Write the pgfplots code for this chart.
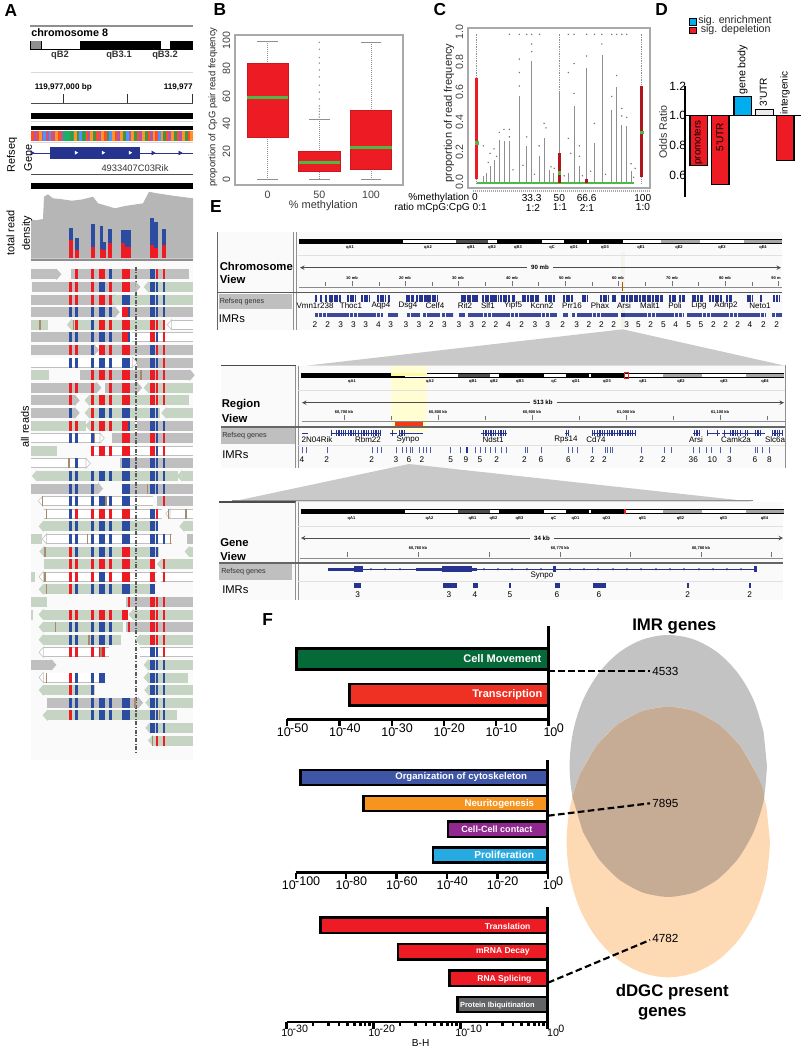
\documentclass[border=0pt]{standalone}
\usepackage{fontspec}
\setmainfont{Liberation Sans}
\usepackage{pgfplots}
\pgfplotsset{compat=1.18}
\usepgfplotslibrary{statistics}

\definecolor{rd}{HTML}{ED1C24}
\definecolor{bl}{HTML}{2C4CA2}
\definecolor{nb}{HTML}{26348F}
\definecolor{rg}{HTML}{BFBFBF}
\definecolor{rv}{HTML}{C6D4C4}
\definecolor{br}{HTML}{A8896C}
\definecolor{fr}{HTML}{A9A9A9}
\definecolor{gm}{HTML}{4DB848}
\definecolor{gl}{HTML}{8F8F8F}
\definecolor{vgray}{HTML}{C4C3C3}
\definecolor{vorange}{HTML}{FDD9B4}
\definecolor{vboth}{HTML}{C6AB95}
\definecolor{skyb}{HTML}{00AEEF}

\newcommand\fz[1]{\fontsize{#1}{#1}\selectfont}
\newcommand\tp[1]{10\kern-.5pt\raisebox{.33em}{-#1}}

\pgfdeclareplotmark{rt}{\pgfpathrectangle{\pgfpoint{-\pgfplotmarksize}{-3.75pt}}{\pgfpoint{2\pgfplotmarksize}{7.5pt}}\pgfusepathqfill}
\pgfdeclareplotmark{tipR}{\pgfpathmoveto{\pgfpoint{0pt}{3.75pt}}\pgfpathlineto{\pgfpoint{3.25pt}{0pt}}\pgfpathlineto{\pgfpoint{0pt}{-3.75pt}}\pgfpathclose\pgfusepathqfillstroke}
\pgfdeclareplotmark{tipL}{\pgfpathmoveto{\pgfpoint{0pt}{3.75pt}}\pgfpathlineto{\pgfpoint{-3.25pt}{0pt}}\pgfpathlineto{\pgfpoint{0pt}{-3.75pt}}\pgfpathclose\pgfusepathqfillstroke}

\pgfplotsset{
  table/row sep=\\,
  hb/.style={quiver={u=\thisrow{u},v=0}},
  vb/.style={quiver={u=0,v=\thisrow{v}}},
  canvas/.style={at={(0pt,0pt)},anchor=south west,scale only axis,width=606pt,height=787.5pt,
    xmin=0,xmax=808,ymin=0,ymax=1050,y dir=reverse,hide axis,clip=false},
  box/.code n args={4}{% left right top bottom, in pixels of the reference
    \pgfmathsetlengthmacro\bl{#1*0.75pt}\pgfmathsetlengthmacro\bb{(1050-#4)*0.75pt}%
    \pgfmathsetlengthmacro\bw{(#2-#1)*0.75pt}\pgfmathsetlengthmacro\bh{(#4-#3)*0.75pt}%
    \pgfplotsset{scale only axis,anchor=south west,at={(\bl,\bb)},width=\bw,height=\bh}},
  fbar/.style={xbar,bar shift=0pt,log origin=0,axis y line*=right,axis x line*=bottom,
    ytick=\empty,axis line style={line width=2.2pt},tick style={black,line width=1.8pt},
    major tick length=5pt,minor tick length=3pt,tick align=outside,clip=false,ymin=0,xmax=1,
    xticklabel style={font=\fz{9.4},yshift=5.5pt,xshift=4pt},xminorticks=false},
}

% horizontal / vertical segments: colour, width, rows
\newcommand\HB[3]{\addplot[hb,color=#1,line width=#2] table{x y u\\#3};}
\newcommand\VB[3]{\addplot[vb,color=#1,line width=#2] table{x y v\\#3};}
\newcommand\POLY[2]{\addplot[draw=none,fill=#1] coordinates{#2}--cycle;}
\newcommand\LN[3]{\addplot[color=#1,line width=#2] coordinates{#3};}
% text rows: font, y, rows of x t
\newcommand\TXT[3]{\addplot[draw=none,nodes near coords,point meta=explicit symbolic,
  every node near coord/.append style={anchor=center,inner sep=0pt,font=#1}]
  table[x=x,y expr=#2,meta=t]{x t\\#3};}
% a column of marks in the reads panel: x, half width, red rows, blue rows
\newcommand\COL[4]{%
  \addplot[only marks,mark=rt,mark size=#2,color=rd] table[x expr=#1,y index=0,header=false]{#3};
  \addplot[only marks,mark=rt,mark size=#2,color=bl] table[x expr=#1,y index=0,header=false]{#4};}
\newcommand\STRIP[2]{\addplot[quiver={u=2.8,v=0},color=#1,line width=7.5pt] table[x index=0,y expr=135.5,header=false]{#2};}
% ideogram: y centre, x offset
\newcommand\IDEO[2]{%
  \addplot[hb,color=black,line width=3.4pt] table[x expr=\thisrow{x}+#2,y expr=#1]{x u\\299 483\\};
  \addplot[hb,color=white,line width=2.1pt] table[x expr=\thisrow{x}+#2,y expr=#1]{x u\\403 53\\488 9\\542 22\\587 2\\623 38\\700 44\\};
  \addplot[hb,color=black!70,line width=2.1pt] table[x expr=\thisrow{x}+#2,y expr=#1]{x u\\456 32\\};
  \addplot[hb,color=black!35,line width=2.1pt] table[x expr=\thisrow{x}+#2,y expr=#1]{x u\\661 39\\744 38\\};
  \addplot[draw=none,nodes near coords,point meta=explicit symbolic,
    every node near coord/.append style={anchor=center,inner sep=0pt,font=\fz{3}\bfseries}]
    table[x expr=\thisrow{x}+#2,y expr=#1+6.5,meta=t]{x t\\350 qA1\\428 qA2\\471 qB1\\492 qB2\\518 qB3\\552 qC\\574 qD1\\605 qD3\\641 qE1\\679 qE2\\722 qE3\\763 qE4\\};}

\begin{document}
\begin{tikzpicture}
\path[use as bounding box] (0pt,0pt) rectangle (606pt,787.5pt);

%% background canvas: panels A and E, Venn
\begin{axis}[canvas]
% panel A tracks
\POLY{black!2}{(31,260)(193,260)(193,760)(31,760)}
\LN{gl}{.8pt}{(30,26)(193,26)}
\HB{black}{7pt}{30 45.3 163\\}
\HB{gl}{6pt}{30.5 45.3 10.5\\}
\HB{white}{6pt}{41.5 45.3 38.5\\161 45.3 9\\}
\LN{black!15}{.6pt}{(31,72)(193,72)}
\LN{black!70}{.6pt}{(31,103.3)(193,103.3)}
\VB{black!80}{.7pt}{63.3 103.3 -9\\127.3 103.3 -9\\192 103.3 -9\\}
\HB{black}{4.5pt}{31 115.5 162\\}
\LN{black!15}{.6pt}{(31,121)(193,121)}
\HB{black}{3pt}{31 128.3 162\\}
\HB{teal!70!green!90}{7.5pt}{31 135.5 162\\}
\STRIP{red!65!orange!85}{31\\36.4\\44.5\\50\\58\\85.6\\96\\104\\115\\125\\136\\147\\155\\166\\177\\187\\}
\STRIP{orange!85}{39\\55\\74\\90\\101\\112\\120\\131\\142\\152\\160\\171\\182\\190\\}
\STRIP{green!45!black!75}{70\\77\\82\\93\\107\\123\\134\\145\\163\\174\\185\\}
\STRIP{violet!65}{33.7\\41.5\\47\\52.5\\60.5\\87.5\\98.5\\117\\128\\139\\150\\168\\179\\}
\STRIP{blue!60!cyan!70}{42.8\\48.5\\79\\109\\126\\158\\}
\LN{black!15}{.6pt}{(31,142.5)(193,142.5)}
\LN{nb}{.6pt}{(31,153)(193,153)}
\HB{nb}{9pt}{50 152.7 90\\}
\addplot[only marks,mark=triangle*,mark size=1.6pt,color=nb,mark options={rotate=-90}] coordinates{(32,153)(153,153)(180,153)};
\addplot[only marks,mark=triangle*,mark size=1.2pt,color=white,mark options={rotate=-90}] coordinates{(76,152.7)(103,152.7)(130,152.7)};
\LN{black!70}{.7pt}{(31,174)(193,174)}
\HB{black}{4.5pt}{31 186 162\\}
\POLY{gl!65}{(31,258.5)(31,219.3)(36,220.3)(43,219)(44,196.7)(48,194.3)(53,198.3)(60,199)(72,200.7)(82,199.5)(93,196.7)(98,203.3)(115,208.3)(125,206)(143,203.3)(149,191.7)(157,193.3)(175,196)(193,198.3)(193,258.5)}
\VB{bl}{2.8pt}{70.7 258.3 -30.6\\76.7 258.3 -20.6\\93.3 258.3 -34.3\\101.5 258.3 -32.3\\104.2 258.3 -16.6\\110.2 258.3 -29.3\\123.3 258.3 -28.3\\126.5 258.3 -28.3\\129.5 258.3 -28.3\\152 258.3 -40\\156 258.3 -36.6\\164.3 258.3 -29.3\\}
\VB{rd}{2.8pt}{70.7 258.3 -18.3\\76.7 258.3 -8.3\\93.3 258.3 -11.6\\101.5 258.3 -9\\104.2 258.3 -8.3\\110.2 258.3 -15.6\\123.3 258.3 -15.6\\126.5 258.3 -11\\129.5 258.3 -11\\152 258.3 -13\\156 258.3 -10\\164.3 258.3 -13.3\\}
\LN{gl}{1pt}{(31,260)(193,260)}

% panel E backgrounds and funnels
\POLY{black!2}{(217,232)(782,232)(782,330)(217,330)}
\POLY{black!2}{(221,366)(785,366)(785,468)(221,468)}
\POLY{black!2}{(219,502)(783,502)(783,600)(219,600)}
\POLY{rg!85}{(622.7,329.3)(785,365.7)(306,365.7)}
\POLY{rg!85}{(409,464)(753,501.7)(231.7,501.7)}
\LN{gl}{1.2pt}{(231.7,500.6)(753,500.6)}
\POLY{yellow!40!black!8}{(620.7,252)(625,252)(625,328)(620.7,328)}
\POLY{yellow!18}{(390.7,366)(426.7,366)(426.7,431.7)(390.7,431.7)}

% chromosome view
\LN{black!60}{.6pt}{(217,232)(217,330)}
\LN{gl}{.6pt}{(293,232)(293,330)}
\LN{gl}{.6pt}{(296,232)(296,330)}
\IDEO{241.3}{0}
\LN{black!12}{.6pt}{(298,255)(782,255)}
\addplot[black!70,line width=.5pt,stealth-] coordinates{(300,267.7)(527,267.7)};
\addplot[black!70,line width=.5pt,-stealth] coordinates{(553,267.7)(781,267.7)};
\VB{black!55}{.5pt}{325 286 -4\\352 286 -5\\379 286 -4\\405 286 -5\\432 286 -4\\458 286 -5\\485 286 -4\\512 286 -5\\538 286 -4\\565 286 -5\\592 286 -4\\618 286 -5\\645 286 -4\\672 286 -5\\698 286 -4\\725 286 -5\\752 286 -4\\778 286 -5\\}
\LN{black!45}{.7pt}{(299,287)(782,287)}
\LN{black!65}{1.1pt}{(218,292.3)(782,292.3)}
\POLY{rg}{(219,294)(292,294)(292,309)(219,309)}
\addplot[hb,color=nb,line width=5pt,dash pattern=on 1.6pt off .35pt] table{x y u\\315 298.5 2\\320 298.5 2\\325 298.5 2\\328.5 298.5 12.5\\347 298.5 9\\361 298.5 8\\377 298.5 8\\388 298.5 2.5\\405.5 298.5 8\\416 298.5 22\\460.5 298.5 3\\464 298.5 14\\482 298.5 17\\500 298.5 10\\511.7 298.5 3.3\\521.7 298.5 17.6\\545 298.5 10\\563 298.5 9.7\\581.7 298.5 5.6\\600 298.5 8.3\\611.7 298.5 5\\620.7 298.5 42.6\\669 298.5 7\\679 298.5 6\\691.7 298.5 11.6\\709.3 298.5 12.4\\726 298.5 5.7\\746.7 298.5 5.6\\760 298.5 2.3\\773.3 298.5 5.7\\};
\addplot[hb,color=nb!90,line width=3.4pt,dash pattern=on 2.6pt off .3pt] table{x y u\\315 315 68\\388.3 315 10\\406.7 315 13.3\\422.7 315 17.3\\441.7 315 11.6\\459.3 315 5.7\\468.3 315 88.4\\563.3 315 5\\571.7 315 3\\577.3 315 41\\620.7 315 62.6\\687.3 315 79\\771.7 315 10\\};
\POLY{yellow!40!black!10}{(620.7,310)(625,310)(625,328)(620.7,328)}
\HB{nb}{3.4pt}{620.7 315 4.3\\}
\LN{orange!70!black}{.6pt}{(622.7,282)(622.7,291)}

% region view
\LN{black!70}{.8pt}{(221,365.5)(296,365.5)}
\LN{gl}{.7pt}{(785,365)(785,468)}
\LN{gl}{.6pt}{(295,366)(295,468)}
\LN{gl}{.6pt}{(298,366)(298,468)}
\IDEO{375.5}{2}
\POLY{yellow!35}{(390.7,372.5)(426.7,372.5)(426.7,376)(390.7,376)}
\addplot[draw=rd,line width=.7pt] coordinates{(624.7,372.8)(628,372.8)(628,378.5)(624.7,378.5)}--cycle;
\LN{black!12}{.6pt}{(298,390)(785,390)}
\addplot[black!70,line width=.5pt,stealth-] coordinates{(302,402.7)(530,402.7)};
\addplot[black!70,line width=.5pt,-stealth] coordinates{(557,402.7)(784,402.7)};
\VB{black!55}{.5pt}{344 420 -5\\391 420 -4\\438 420 -5\\485 420 -4\\532 420 -5\\579 420 -4\\626 420 -5\\673 420 -4\\720 420 -5\\767 420 -4\\}
\LN{black!45}{.6pt}{(302,421)(785,421)}
\HB{rd!70!orange}{3.4pt}{395 424 28.3\\}
\LN{black!60}{1.4pt}{(221,427)(785,427)}
\POLY{rg}{(221,428)(295,428)(295,444)(221,444)}
\LN{black!12}{.6pt}{(298,445)(785,445)}
\HB{nb}{.5pt}{302 433 6\\330.7 433 49.3\\390 433 6.7\\400 433 23.3\\480.7 433 26\\500 433 6.7\\565 433 3.3\\591.7 433 43.3\\693.3 433 5.7\\706.7 433 13.3\\721.7 433 43.3\\771.7 433 11.7\\}
\addplot[hb,color=nb,line width=4.5pt,dash pattern=on .9pt off .9pt] table{x y u\\331 433 2\\336 433 5\\343 433 3\\348 433 11\\361 433 11\\373 433 6\\380 433 2\\392 433 2\\399 433 3\\402 433 3\\483 433 5\\488 433 8\\498 433 5\\505 433 2\\566 433 3\\592 433 3\\597 433 18\\617 433 6\\625 433 8\\635 433 2\\694 433 5\\707 433 2\\717 433 2\\724 433 2\\730 433 12\\745 433 3\\755 433 7\\772 433 11\\};
\VB{nb!80}{.5pt}{302.3 453 -6\\306.7 453 -6\\327.3 453 -6\\372.3 453 -6\\377.3 453 -6\\381.7 453 -6\\396 453 -6\\402.7 453 -6\\406.7 453 -6\\410 453 -6\\412.3 453 -6\\419.3 453 -6\\423.3 453 -6\\426.7 453 -6\\430 453 -6\\450.7 453 -6\\460 453 -6\\466 453 -6\\475.7 453 -6\\480 453 -6\\485 453 -6\\490 453 -6\\495.7 453 -6\\501.7 453 -6\\506 453 -6\\525 453 -6\\527.7 453 -6\\541.7 453 -6\\568.3 453 -6\\572.7 453 -6\\577.7 453 -6\\592.7 453 -6\\605 453 -6\\607.3 453 -6\\610 453 -6\\612.7 453 -6\\641.7 453 -6\\664 453 -6\\671 453 -6\\693.3 453 -6\\699 453 -6\\706 453 -6\\711.7 453 -6\\720.7 453 -6\\730 453 -6\\755 453 -6\\757.7 453 -6\\762.3 453 -6\\769.3 453 -6\\}
\HB{nb}{4.4pt}{465.6 450 2.2\\}

% gene view
\LN{black!70}{.8pt}{(219,502)(296,502)}
\LN{gl}{.6pt}{(295,502)(295,600)}
\LN{gl}{.6pt}{(298,502)(298,600)}
\IDEO{511.7}{1.5}
\HB{rd}{3.4pt}{623.7 511.7 2\\}
\LN{black!12}{.6pt}{(298,526)(783,526)}
\addplot[black!70,line width=.5pt,stealth-] coordinates{(301,538)(530,538)};
\addplot[black!70,line width=.5pt,-stealth] coordinates{(554,538)(783,538)};
\VB{black!55}{.5pt}{347.7 557 -5\\418.3 557 -5\\489 557 -5\\560 557 -5\\630 557 -5\\701 557 -5\\771.7 557 -5\\}
\LN{black!45}{.6pt}{(300,558)(783,558)}
\LN{black!60}{1.4pt}{(219,563)(783,563)}
\POLY{rg}{(219,564)(292,564)(292,580)(219,580)}
\LN{black!12}{.6pt}{(298,581)(783,581)}
\LN{nb}{.5pt}{(328,569.3)(755.7,569.3)}
\HB{nb}{2.6pt}{328.3 569.3 25.7\\415.7 569.3 26.6\\471.7 569.3 5\\}
\HB{nb}{4.6pt}{354 569.3 9.3\\442.3 569.3 29.4\\553.3 569.3 2.7\\754.3 569.3 2.4\\}
\addplot[only marks,mark=*,mark size=.55pt,color=nb] coordinates{(371,569.3)(385,569.3)(400,569.3)(484,569.3)(498,569.3)(512,569.3)(527,569.3)(541,569.3)(570,569.3)(584,569.3)(598,569.3)(613,569.3)(627,569.3)(641,569.3)(656,569.3)(670,569.3)(684,569.3)(699,569.3)(713,569.3)(727,569.3)(741,569.3)};
\HB{nb}{3.8pt}{354 585.7 7.3\\443.3 585.7 13.4\\472.7 585.7 5.6\\509 585.7 2\\555 585.7 5\\592.7 585.7 13.3\\687.3 585.7 1.4\\749.3 585.7 1.4\\}

% Venn
\addplot[fill=vgray,draw=none,smooth,tension=.55] coordinates{(767,766)(763.6,799.9)(753.8,831.5)(738.1,858.6)(717.7,879.4)(693.9,892.5)(668.3,897)(642.7,892.5)(618.9,879.4)(598.5,858.6)(582.8,831.5)(573,799.9)(569.6,766)(573,732.1)(582.8,700.5)(598.5,673.4)(618.9,652.6)(642.7,639.5)(668.3,635)(693.9,639.5)(717.7,652.6)(738.1,673.4)(753.8,700.5)(763.6,732.1)}--cycle;
\addplot[fill=vorange,draw=none,smooth,tension=.55] coordinates{(770,842)(766.5,877)(756.4,909.7)(740.2,937.7)(719.2,959.2)(694.6,972.7)(668.3,977.3)(642,972.7)(617.4,959.2)(596.4,937.7)(580.2,909.7)(570.1,877)(566.6,842)(570.1,807)(580.2,774.3)(596.4,746.3)(617.4,724.8)(642,711.3)(668.3,706.7)(694.6,711.3)(719.2,724.8)(740.2,746.3)(756.4,774.3)(766.5,807)}--cycle;
\addplot[fill=vboth,draw=none,smooth,tension=.4] coordinates{(572.4,797)(580.2,774.3)(596.4,746.3)(617.4,724.8)(642,711.3)(668.3,706.7)(694.6,711.3)(719.2,724.8)(740.2,746.3)(756.4,774.3)(764.2,797)(753.8,831.5)(738.1,858.6)(717.7,879.4)(693.9,892.5)(668.3,897)(642.7,892.5)(618.9,879.4)(598.5,858.6)(582.8,831.5)}--cycle;
\end{axis}

%% panel A reads
\begin{axis}[box={0}{210}{261.7}{753.1},xmin=0,xmax=630,ymin=-1,ymax=38,y dir=reverse,hide axis,clip=false]
\HB{rg}{7.5pt}{93 0 77\\212 0 356\\97 1 313\\93 2 252\\93 3 252\\370 3 208\\93 5 280\\93 6 190\\302 6 276\\412 7 166\\240 8 330\\93 9 197\\315 9 97\\93 10 132\\93 11 132\\412 12 166\\335 13 243\\360 15 218\\93 17 202\\370 17 208\\470 18 108\\560 21 18\\378 26 200\\378 28 200\\93 31 62\\140 34 275\\}
\HB{rv}{7.5pt}{345 2 233\\445 1 133\\93 4 52\\215 4 280\\93 8 54\\445 9 133\\268 10 300\\268 11 212\\498 11 80\\93 12 165\\270 12 135\\93 14 79\\110 16 425\\545 16 33\\130 20 345\\552 20 26\\93 21 34\\132 22 346\\568 22 10\\132 23 333\\485 23 93\\93 24 12\\130 25 328\\93 26 49\\93 27 7\\130 27 255\\400 27 178\\130 28 240\\130 29 232\\420 29 158\\445 31 133\\445 32 120\\130 33 155\\447 33 131\\450 34 128\\142 35 388\\450 36 128\\458 37 120\\}
\HB{rg}{7.5pt}{515 4 63\\395 5 183\\93 7 305\\93 13 207\\272 14 306\\93 15 165\\128 18 332\\132 19 353\\510 19 68\\140 21 375\\130 24 340\\482 24 96\\130 30 198\\420 30 158\\130 32 178\\}
\HB{white}{6.2pt}{515 4 63\\395 5 183\\93 7 305\\93 13 207\\272 14 306\\93 15 165\\128 18 332\\132 19 353\\510 19 68\\140 21 375\\130 24 340\\482 24 96\\130 30 198\\420 30 158\\130 32 178\\}
\addplot[only marks,mark=tipR,mark options={draw=rg,fill=rg}] coordinates{(170,0)(407,1)(345,3)(283,6)(570,8)(290,9)(412,9)(225,10)(225,11)(295,17)(155,31)(415,34)};
\addplot[only marks,mark=tipL,mark options={draw=rv,fill=rv}] coordinates{(445,1)(345,2)(215,4)(445,9)(268,10)(268,11)(498,11)(270,12)(110,16)(545,16)(130,20)(552,20)(132,22)(568,22)(485,23)(130,25)(130,27)(400,27)(130,28)(130,29)(420,29)(445,31)(445,32)(130,33)(447,33)(450,34)(142,35)(450,36)(458,37)};
\addplot[only marks,mark=tipR,mark options={draw=rg,fill=white}] coordinates{(398,7)(300,13)(258,15)};
\addplot[only marks,mark=tipL,mark options={draw=rg,fill=white}] coordinates{(515,4)(128,18)(510,19)(140,21)(130,24)(130,30)(130,32)};
\COL{211}{.9pt}{1\\2\\6\\9\\10\\12\\22\\23\\24\\25\\27\\30\\32\\33\\35\\}{3\\5\\7\\11\\13\\16\\17\\18\\19\\20\\21\\28\\29\\34\\}
\COL{229}{.9pt}{0\\1\\2\\4\\6\\9\\12\\19\\23\\24\\27\\30\\}{3\\5\\7\\13\\15\\16\\17\\18\\20\\21\\22\\25\\28\\29\\32\\33\\34\\35\\}
\COL{278}{.9pt}{0\\1\\2\\8\\9\\10\\11\\12\\14\\19\\23\\24\\27\\30\\}{3\\4\\5\\6\\7\\13\\16\\17\\18\\20\\21\\22\\25\\28\\29\\32\\33\\34\\35\\}
\COL{306}{1.9pt}{0\\2\\4\\6\\8\\10\\12\\14\\19\\23\\27\\30\\}{1\\3\\5\\7\\11\\16\\18\\20\\21\\22\\24\\25\\28\\29\\32\\34\\35\\}
\COL{331}{.9pt}{1\\2\\4\\6\\8\\9\\10\\12\\14\\19\\23\\24\\27\\}{0\\3\\5\\7\\11\\16\\18\\20\\21\\22\\25\\28\\29\\34\\35\\}
\COL{375}{2.5pt}{0\\1\\3\\4\\5\\6\\8\\9\\10\\12\\13\\14\\19\\22\\23\\24\\27\\}{2\\7\\11\\15\\16\\17\\18\\20\\21\\25\\34\\35\\}
\COL{387}{.9pt}{0\\1\\4\\6\\8\\9\\10\\13\\14\\19\\22\\23\\24\\26\\28\\}{2\\3\\5\\7\\11\\12\\15\\16\\17\\18\\20\\21\\25\\34\\35\\}
\COL{458}{1.8pt}{4\\5\\8\\9\\10\\13\\14\\23\\24\\26\\27\\28\\29\\}{0\\1\\2\\3\\6\\7\\11\\12\\15\\16\\17\\19\\20\\21\\22\\25\\30\\31\\32\\33\\34\\35\\36\\}
\COL{471}{.9pt}{0\\4\\6\\8\\9\\10\\19\\26\\27\\28\\29\\37\\}{1\\2\\3\\5\\7\\11\\12\\13\\14\\15\\16\\17\\20\\21\\22\\30\\31\\32\\33\\34\\35\\36\\}
\COL{492}{.9pt}{0\\4\\5\\6\\7\\8\\9\\10\\13\\14\\18\\23\\24\\26\\27\\28\\29\\30\\37\\}{1\\2\\3\\12\\15\\16\\17\\21\\31\\32\\33\\34\\35\\36\\}
\addplot[only marks,mark=rt,mark size=.5pt,color=br] coordinates{(120,4)(220,4)(423,8)(284,13)(207,15)(442,17)(318,18)(127,18)(140,19)(505,19)(558,19)(262,21)(512,21)(135,22)(135,24)(140,25)(167,28)(267,29)(303,30)(140,32)(405,34)(478,35)(458,37)};
\addplot[color=black!65,line width=1pt,dash pattern=on 3pt off 1.2pt on .8pt off 1.2pt] coordinates{(408,-.6)(408,37.9)};
\end{axis}

%% panel B
\begin{axis}[box={235}{403}{35}{185},xmin=-.633,xmax=2.62,ymin=-4.1,ymax=104.3,
  axis line style={fr,line width=.8pt},major tick length=0pt,
  xtick={0,1,2},xticklabels={0,50,100},ytick={0,20,40,60,80,100},
  ticklabel style={font=\fz{8},text=black!75},
  /pgf/number format/assume math mode=true,
  yticklabel style={rotate=90,anchor=south},ytick pos=left,xtick pos=bottom,
  xticklabel style={yshift=-1pt},
  boxplot/draw direction=y,
  boxplot/every box/.style={draw=rd!85!black,fill=rd,line width=.5pt,solid},
  boxplot/every median/.style={gm,line width=2.2pt,solid},
  boxplot/every whisker/.style={gl,line width=.6pt,dash pattern=on .6pt off .9pt},
  boxplot/box extend=.8,boxplot/whisker extend=0]
\addplot[boxplot prepared={draw position=0,lower whisker=0,lower quartile=30.5,median=59,upper quartile=83.5,upper whisker=100}] coordinates{};
\addplot[boxplot prepared={draw position=1,lower whisker=0,lower quartile=5.5,median=12,upper quartile=20,upper whisker=43}] coordinates{};
\addplot[boxplot prepared={draw position=2,lower whisker=0,lower quartile=7.5,median=23,upper quartile=49.5,upper whisker=99}] coordinates{};
\HB{gl}{.6pt}{-.2 0 .4\\-.2 100 .4\\.8 0 .4\\.8 43 .4\\1.8 0 .4\\1.8 99 .4\\}
\addplot[only marks,mark=*,mark size=.3pt,color=gl] coordinates{(1,45)(1,47)(1,49)(1,51)(1,53)(1,58)(1,63)(1,68)(1,74)(1,79)(1,84)(1,88)(1,94)(1,99)};
\end{axis}

%% panel C
\begin{axis}[box={468}{650}{28}{188},xmin=-5.27,xmax=104.97,ymin=-.0314,ymax=1.0374,
  axis line style={fr,line width=1.1pt},major tick length=0pt,
  xtick=\empty,ytick pos=left,
  ytick={0,.2,.4,.6,.8,1},ticklabel style={font=\fz{8},text=black!75},
  /pgf/number format/assume math mode=true,/pgf/number format/fixed,/pgf/number format/fixed zerofill,/pgf/number format/precision=1,
  yticklabel style={rotate=90,anchor=south,xshift=1pt}]
\addplot[ycomb,color=gl,line width=.5pt] coordinates{(4,.047)(6,.069)(8.1,.114)(10.5,.158)(13.7,.292)(16.5,.28)(19.8,.28)(25.8,.58)(30.3,.247)(33.3,.815)(37.8,.18)(40.8,.303)(44,.09)(46.4,.07)(55.5,.07)(59,.514)(62.2,.114)(66.6,.77)(71.3,.27)(75.8,.86)(81.8,.49)(84.8,.64)(87.9,.39)(90.9,.38)(93.5,.08)(50,.6)};
\addplot[ycomb,color=gl,line width=.6pt,dash pattern=on .5pt off .8pt] coordinates{(0,1)(50,1)(100,1)};
\addplot[only marks,mark=*,mark size=.3pt,color=black!55] coordinates{(19.8,.995)(25.8,.995)(30.3,.995)(33.3,.995)(38.1,.995)(55.5,.995)(59,.995)(66.6,.995)(71.3,.995)(75.8,.995)(81.8,.995)(84.8,.995)(87.9,.995)(90.9,.995)(25.8,.83)(25.8,.74)(25.8,.65)(33.3,.88)(33.3,.93)(37.8,.25)(40.8,.4)(42,.37)(45,.11)(55.5,.74)(55.5,.3)(57,.2)(59,.6)(59,.8)(62.2,.25)(62.2,.18)(66.6,.85)(71.3,.4)(75.8,.93)(81.8,.58)(84.8,.72)(87.9,.45)(87.9,.5)(90.9,.44)(93.5,.13)(96,.1)(4,.25)(8.1,.2)(10.5,.23)(13.7,.34)(16.5,.36)(19.8,.36)(19.8,.31)(30.3,.31)(28,.12)(22,.09)(12,.18)(7,.14)(35,.06)(47,.1)(53,.05)(64,.05)(69,.08)(78,.06)(95,.04)};
\addplot[color=gm,line width=1.5pt] coordinates{(0,0)(95,0)};
\addplot[color=rd,line width=2.2pt] coordinates{(0,.03)(0,.7)};
\addplot[color=rd!75!black,line width=2.2pt] coordinates{(50,0)(50,.2)};
\addplot[color=rd!75!black,line width=2.2pt] coordinates{(66.6,0)(66.6,.03)};
\addplot[color=rd!75!black,line width=2.2pt] coordinates{(100,.045)(100,.65)};
\addplot[only marks,mark=square*,mark size=1pt,color=gm] coordinates{(0,.27)(50,.07)(100,.34)};
\end{axis}

%% panel D
\begin{axis}[box={685}{801}{86}{196.7},xmin=685,xmax=801,ymin=.454,ymax=1.2,
  axis y line*=left,axis x line=none,clip=false,axis line style={line width=.9pt},
  ytick={.6,.8,1,1.2},yticklabels={0.6,0.8,1.0,1.2},major tick length=0pt,
  yticklabel style={font=\fz{9},inner sep=0pt,xshift=1pt},
  /pgf/number format/assume math mode=true]
\addplot[draw=black,line width=.8pt,fill=rd] coordinates{(690,1)(707.3,1)(707.3,.665)(690,.665)}--cycle;
\addplot[draw=black,line width=.8pt,fill=rd] coordinates{(711.7,1)(729,1)(729,.538)(711.7,.538)}--cycle;
\addplot[draw=black,line width=.8pt,fill=skyb] coordinates{(734,1)(751.7,1)(751.7,1.13)(734,1.13)}--cycle;
\addplot[draw=black,line width=.8pt,fill=black!8] coordinates{(755.7,1)(773.3,1)(773.3,1.04)(755.7,1.04)}--cycle;
\addplot[draw=black,line width=.8pt,fill=rd] coordinates{(776.7,1)(794,1)(794,.7)(776.7,.7)}--cycle;
\LN{black}{.9pt}{(685,1)(801,1)}
\end{axis}

%% panel F
\begin{semilogxaxis}[box={287.3}{548.3}{625.7}{719.3},fbar,xmin=1e-50,ymax=93.6,
  xtick={1e-50,1e-40,1e-30,1e-20,1e-10,1},xticklabels={\tp{50},\tp{40},\tp{30},\tp{20},\tp{10},10\kern-.5pt\raisebox{.33em}{0}},
  bar width=16pt]
\addplot[draw=black,line width=2.2pt,fill={rgb,255:red,6;green,105;blue,56}] coordinates{(6.3e-49,60.5)};
\addplot[draw=black,line width=2.2pt,fill={rgb,255:red,239;green,49;blue,36}] coordinates{(1e-38,24.6)};
\end{semilogxaxis}
\begin{semilogxaxis}[box={295.7}{547.7}{760}{872.7},fbar,xmin=1e-100,ymax=112.7,
  xtick={1e-100,1e-80,1e-60,1e-40,1e-20,1},xticklabels={\tp{100},\tp{80},\tp{60},\tp{40},\tp{20},10\kern-.5pt\raisebox{.33em}{0}},
  bar width=11.5pt]
\addplot[draw=black,line width=1.9pt,fill={rgb,255:red,63;green,85;blue,165}] coordinates{(1e-98,95.2)};
\addplot[draw=black,line width=1.9pt,fill={rgb,255:red,247;green,148;blue,29}] coordinates{(1e-73,69.2)};
\addplot[draw=black,line width=1.9pt,fill={rgb,255:red,146;green,39;blue,143}] coordinates{(3.2e-40,43.5)};
\addplot[draw=black,line width=1.9pt,fill={rgb,255:red,39;green,170;blue,225}] coordinates{(3.2e-46,17.7)};
\end{semilogxaxis}
\begin{semilogxaxis}[box={286.7}{547.7}{907.3}{1022},fbar,xmin=1e-30,ymax=114.7,
  xtick={1e-30,1e-20,1e-10,1},xticklabels={\tp{30},\tp{20},\tp{10},10\kern-.5pt\raisebox{.33em}{0}},
  xminorticks=true,
  minor xtick={1e-27,6.3e-26,1e-24,1e-23,6.3e-23,3.2e-22,1e-21,3.2e-21,1e-17,6.3e-16,1e-14,1e-13,6.3e-13,3.2e-12,1e-11,3.2e-11,1e-7,6.3e-6,1e-4,1e-3,6.3e-3,3.2e-2,1e-1,3.2e-1},
  bar width=11.5pt,xticklabel style={font=\fz{8},yshift=.5pt,xshift=2pt}]
\addplot[draw=black,line width=1.9pt,fill=rd] coordinates{(7.9e-27,96.8)};
\addplot[draw=black,line width=1.9pt,fill=rd] coordinates{(6.3e-18,70.2)};
\addplot[draw=black,line width=1.9pt,fill=rd] coordinates{(5e-12,43.8)};
\addplot[draw=black,line width=1.9pt,fill={rgb,255:red,99;green,100;blue,102}] coordinates{(4e-11,17.5)};
\end{semilogxaxis}

%% foreground canvas: dashes and text
\begin{axis}[canvas]
\addplot[black,line width=1.6pt,dash pattern=on 5pt off 2.5pt] coordinates{(548,671)(650,671)};
\addplot[black,line width=1.6pt,dash pattern=on 5pt off 2.5pt] coordinates{(548,815.7)(650,803.3)};
\addplot[black,line width=1.6pt,dash pattern=on 5pt off 2.5pt] coordinates{(548,982.7)(650,940)};
\addplot[color=fr,line width=1.6pt,dash pattern=on .6pt off .9pt] coordinates{(473,191)(650,191)};

\node[anchor=center,font=\fz{13}\bfseries] at (11,11) {A};
\node[anchor=center,font=\fz{13}\bfseries] at (220,10) {B};
\node[anchor=center,font=\fz{13}\bfseries] at (440,10) {C};
\node[anchor=center,font=\fz{13}\bfseries] at (661.7,10) {D};
\node[anchor=center,font=\fz{13}\bfseries] at (216,207) {E};
\node[anchor=center,font=\fz{13}\bfseries] at (267.7,620) {F};

% A
\node[anchor=west,inner sep=0pt,font=\fz{8.1}\bfseries] at (31,32.5) {chromosome 8};
\TXT{\fz{7}\bfseries\color{black!80}}{55.7}{60 qB2\\119 qB3.1\\165 qB3.2\\}
\node[anchor=west,inner sep=0pt,font=\fz{6.1}\bfseries] at (34.5,87) {119,977,000 bp};
\node[anchor=east,inner sep=0pt,font=\fz{6.1}\bfseries] at (193,87) {119,977};
\node[anchor=center,inner sep=0pt,font=\fz{7},text=black!80] at (135,168) {4933407C03Rik};
\node[anchor=center,rotate=90,inner sep=0pt,font=\fz{8.2}] at (12,155) {Refseq};
\node[anchor=center,rotate=90,inner sep=0pt,font=\fz{8.2}] at (28,158) {Gene};
\node[anchor=center,rotate=90,inner sep=0pt,font=\fz{8.2}] at (10.5,233) {total read};
\node[anchor=center,rotate=90,inner sep=0pt,font=\fz{8.2}] at (27,233) {density};
\node[anchor=center,rotate=90,inner sep=0pt,font=\fz{8.2}] at (25,427) {all reads};

% B
\node[anchor=center,rotate=90,inner sep=0pt,font=\fz{7.1},text=black!85] at (213,107) {proportion of CpG pair read frequency};
\node[anchor=center,inner sep=0pt,font=\fz{8.2},text=black!80] at (323.3,206) {\% methylation};

% C
\node[anchor=center,rotate=90,inner sep=0pt,font=\fz{8.3},text=black!85] at (449,113) {proportion of read frequency};
\node[anchor=east,inner sep=0pt,font=\fz{7.6}] at (478,198) {\%methylation 0};
\node[anchor=east,inner sep=0pt,font=\fz{7.6}] at (487,207.5) {ratio mCpG:CpG 0:1};
\TXT{\fz{7.6}}{198}{531.7 33.3\\559.3 50\\586.7 66.6\\642.7 100\\}
\TXT{\fz{7.6}}{207.5}{533 1:2\\560 1:1\\587 2:1\\643 1:0\\}

% D
\addplot[draw=black,line width=.5pt,fill=skyb] coordinates{(689.3,18.3)(696,18.3)(696,25)(689.3,25)}--cycle;
\addplot[draw=black,line width=.5pt,fill=rd] coordinates{(689.3,27.7)(696,27.7)(696,33.3)(689.3,33.3)}--cycle;
\node[anchor=west,inner sep=0pt,font=\fz{8},text=black!85] at (698,21) {sig. enrichment};
\node[anchor=west,inner sep=0pt,font=\fz{8},text=black!85] at (700.5,30) {sig. depeletion};
\node[anchor=center,rotate=90,inner sep=0pt,font=\fz{8},text=black!80] at (663,132) {Odds Ratio};
\node[anchor=west,rotate=90,inner sep=0pt,font=\fz{7.4}] at (698.5,165) {promoters};
\node[anchor=west,rotate=90,inner sep=0pt,font=\fz{7.6}] at (720,151.7) {5'UTR};
\node[anchor=west,rotate=90,inner sep=0pt,font=\fz{8}] at (742.5,95) {gene body};
\node[anchor=west,rotate=90,inner sep=0pt,font=\fz{7.6}] at (763.5,106.7) {3'UTR};
\node[anchor=west,rotate=90,inner sep=0pt,font=\fz{7.5}] at (785,115) {intergenic};

% E
\node[anchor=west,inner sep=0pt,font=\fz{8.5}\bfseries] at (219.5,266) {Chromosome};
\node[anchor=west,inner sep=0pt,font=\fz{8.5}\bfseries] at (219.5,279.5) {View};
\node[anchor=west,inner sep=0pt,font=\fz{5.4},text=black!80] at (219.5,301.5) {Refseq genes};
\node[anchor=west,inner sep=0pt,font=\fz{8.4}] at (218.5,319) {IMRs};
\TXT{\fz{3}\bfseries}{278}{352 {10 mb}\\405 {20 mb}\\458 {30 mb}\\512 {40 mb}\\565 {50 mb}\\618 {60 mb}\\672 {70 mb}\\725 {80 mb}\\776 {90 m}\\}
\TXT{\fz{4.6}\bfseries}{267.7}{540 {90 mb}\\}
\TXT{\fz{6}}{305.5}{315 Vmn1r238\\351 Thoc1\\381 Aqp4\\408 Dsg4\\435 Celf4\\465 Rit2\\488 Slf1\\513 Yipf5\\542 Kcnn2\\572 Prr16\\600 Phax\\624 Arsi\\650 Malt1\\675 Poli\\699 Lipg\\726 Adnp2\\760 Neto1\\}
\TXT{\fz{6.2}}{324.5}{315 2\\327.7 2\\340.7 3\\353.3 3\\365.7 3\\378.3 4\\390.7 3\\406 3\\419 3\\431.3 2\\444.3 3\\459 3\\471.7 3\\484 2\\496 2\\508.3 4\\521.7 2\\535 3\\547.7 3\\562.7 2\\576.7 3\\589 2\\601.3 2\\613.7 2\\626.7 3\\638.3 5\\650.7 2\\663.3 5\\675.7 4\\688.7 5\\701 5\\713.3 2\\725.7 2\\737.7 2\\750 4\\763.3 2\\776.7 2\\}

\node[anchor=west,inner sep=0pt,font=\fz{8.5}\bfseries] at (221.5,405) {Region};
\node[anchor=west,inner sep=0pt,font=\fz{8.5}\bfseries] at (221.5,418.5) {View};
\node[anchor=west,inner sep=0pt,font=\fz{5.4},text=black!80] at (222,436) {Refseq genes};
\node[anchor=west,inner sep=0pt,font=\fz{8.4}] at (222,455) {IMRs};
\TXT{\fz{4.6}\bfseries}{402.7}{543 {513 kb}\\}
\TXT{\fz{3}\bfseries}{412.7}{344 {60,700 kb}\\438 {60,800 kb}\\532 {60,900 kb}\\626 {61,000 kb}\\720 {61,100 kb}\\}
\TXT{\fz{6}}{440}{317 2N04Rik\\368 Rbm22\\408 Synpo\\493 Ndst1\\566 Rps14\\596 Cd74\\696 Arsi\\736 Camk2a\\775 Slc6a\\}
\TXT{\fz{6.2}}{459.5}{302 4\\326.7 2\\371.7 2\\396 3\\409 6\\422 2\\450.7 5\\466 9\\480 5\\496.7 2\\524.3 2\\541 6\\568.3 6\\592.3 2\\604.3 2\\641.7 2\\663.3 2\\693.3 36\\712.3 10\\729.3 3\\755 6\\769.3 8\\}

\node[anchor=west,inner sep=0pt,font=\fz{8.5}\bfseries] at (220,542.5) {Gene};
\node[anchor=west,inner sep=0pt,font=\fz{8.5}\bfseries] at (220,556) {View};
\node[anchor=west,inner sep=0pt,font=\fz{5.4},text=black!80] at (221,572) {Refseq genes};
\node[anchor=west,inner sep=0pt,font=\fz{8.4}] at (222,590) {IMRs};
\TXT{\fz{4.6}\bfseries}{538}{542 {34 kb}\\}
\TXT{\fz{3}\bfseries}{548.7}{418 {60,760 kb}\\560 {60,770 kb}\\701 {60,780 kb}\\}
\TXT{\fz{6}}{576}{542 Synpo\\}
\TXT{\fz{6.2}}{595}{357.7 3\\449 3\\475 4\\510 5\\557 6\\599 6\\687.7 2\\749.7 2\\}

% F
\node[anchor=east,inner sep=0pt,font=\fz{8.3}\bfseries,text=white] at (541.7,659) {Cell Movement};
\node[anchor=east,inner sep=0pt,font=\fz{8.3}\bfseries,text=white] at (542.7,695) {Transcription};
\node[anchor=east,inner sep=0pt,font=\fz{7.2}\bfseries,text=white] at (527.3,777) {Organization of cytoskeleton};
\node[anchor=east,inner sep=0pt,font=\fz{7.2}\bfseries,text=white] at (534.3,804) {Neuritogenesis};
\node[anchor=east,inner sep=0pt,font=\fz{6.8}\bfseries,text=white] at (532.7,829) {Cell-Cell contact};
\node[anchor=east,inner sep=0pt,font=\fz{7.6}\bfseries,text=white] at (534.3,855) {Proliferation};
\node[anchor=east,inner sep=0pt,font=\fz{6.4}\bfseries,text=white] at (530.7,926) {Translation};
\node[anchor=east,inner sep=0pt,font=\fz{6.4}\bfseries,text=white] at (530,951.7) {mRNA Decay};
\node[anchor=east,inner sep=0pt,font=\fz{6.4}\bfseries,text=white] at (531.7,979) {RNA Splicing};
\node[anchor=east,inner sep=0pt,font=\fz{5.6}\bfseries,text=white] at (535,1005.7) {Protein Ibiquitination};
\node[anchor=center,inner sep=0pt,font=\fz{7.6}] at (420.7,1042.7) {B-H};

\node[anchor=west,inner sep=0pt,font=\fz{8.8}] at (652,671) {4533};
\node[anchor=west,inner sep=0pt,font=\fz{8.8}] at (652,803) {7895};
\node[anchor=west,inner sep=0pt,font=\fz{8.8}] at (652,938) {4782};
\node[anchor=center,inner sep=0pt,font=\fz{12.6}\bfseries] at (674.3,626) {IMR genes};
\node[anchor=center,inner sep=0pt,font=\fz{12.6}\bfseries] at (672.3,992.3) {dDGC present};
\node[anchor=center,inner sep=0pt,font=\fz{12.6}\bfseries] at (662.3,1014) {genes};
\end{axis}
\end{tikzpicture}
\end{document}
